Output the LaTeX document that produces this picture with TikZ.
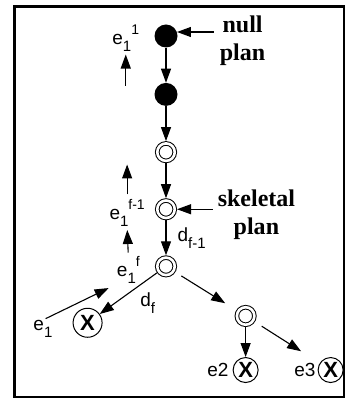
\documentclass[tikz,border=0pt]{standalone}
\usepackage{fontspec}
\setmainfont{Liberation Sans}
\newfontfamily\planfont{Liberation Serif}
\usepackage{tikz}
\usetikzlibrary{arrows.meta,positioning}

\newcommand\lowidx[1]{\raisebox{-7pt}{\fontsize{15}{15}\selectfont #1}}
\newcommand\highidx[1]{\raisebox{10pt}{\fontsize{14}{14}\selectfont #1}}

\begin{document}
\begin{tikzpicture}[
    x=1pt, y=-1pt,
    node distance=35pt,
    blackdot/.style={circle, fill=black, minimum size=23pt, inner sep=0pt},
    ringdot/.style={circle, draw, line width=1pt, double, double distance=2.6pt, minimum size=17.5pt, inner sep=0pt, outer sep=2.3pt},
    failnode/.style={circle, draw, line width=1pt, minimum size=25pt, inner sep=0pt, font=\fontsize{22}{22}\selectfont\bfseries},
    lbl/.style={inner sep=0pt, font=\fontsize{19}{22}\selectfont},
    plantxt/.style={inner sep=0pt, align=center, font=\planfont\bfseries\fontsize{24}{28}\selectfont},
    arr/.style={-{Triangle[length=14pt,width=10pt]}, line width=1.1pt},
]
    \useasboundingbox (0,0) rectangle (347,403);
    \draw[line width=2.5pt] (14.5,6.3) rectangle (344,397);

    % plan chain
    \node[blackdot] (n1) at (166,36) {};
    \node[blackdot, below=of n1] (n2) {};
    \node[ringdot, below=of n2] (n3) {};
    \node[ringdot, below=of n3] (n4) {};
    \node[ringdot, below=of n4] (n5) {};
    \node[ringdot, below right=34pt and 64pt of n5] (n6) {};

    % dead ends
    \node[failnode, minimum size=29pt, below left=38pt and 60pt of n5] (x1) {X};
    \node[failnode, below=30pt of n6] (x2) {X};
    \node[failnode, right=59pt of x2] (x3) {X};

    % plan labels
    \node[plantxt, right=42pt of n1, yshift=-4.5pt] (nullplan) {null\\plan};
    \node[plantxt, right=40.5pt of n4, yshift=-5pt] (skel) {skeletal\\plan};

    % event labels
    \node[lbl, left=15pt of n1, yshift=-2pt] (e11) {e\lowidx{1}\highidx{1}};
    \node[lbl, left=10pt of n4, yshift=-4pt] (e1fm) {e\lowidx{1}\highidx{f-1}};
    \node[lbl, left=15pt of n5, yshift=-4pt] (e1f) {e\lowidx{1}\highidx{f}};
    \node[lbl, left=20pt of x1, yshift=-6pt] (e1) {e\lowidx{1}};
    \node[lbl, left=4pt of x2] (e2) {e2};
    \node[lbl, left=2pt of x3] (e3) {e3};

    \coordinate[below=34pt of e11.south] (e11tail);
    \coordinate[above=35pt of e1fm.north] (e1fmtip);

    % arrows
    \draw[arr, shorten <=6pt] (nullplan.west |- n1.20) -- (n1.20);
    \draw[arr, shorten <=5pt] (skel.west |- n4.east) -- (n4.east);
    \draw[arr] (n1) -- (n2);
    \draw[arr] (n2) -- (n3);
    \draw[arr] (n3) -- (n4);
    \draw[arr] (n4) -- node[lbl, right=11pt] {d\lowidx{f-1}} (n5);
    \draw[arr] (n5) -- node[lbl, pos=0.3, below right=7pt and 0pt] {d\lowidx{f}} (x1);
    \draw[arr, shorten <=7pt, shorten >=13pt] (n5) -- (n6);
    \draw[arr] (n6) -- (x2);
    \draw[arr, shorten <=8pt, shorten >=22pt] (n6) -- (x3);

    \draw[arr, shorten >=3pt] (e11tail) -- (e11.south);
    \draw[arr, shorten <=5pt] (e1fm.north) -- (e1fmtip);
    \draw[arr, shorten <=4pt, shorten >=3pt] (e1f.north) -- (e1fm.south);
    \draw[arr, shorten <=3pt, shorten >=9pt] (e1.north) -- (e1f.south west);

\end{tikzpicture}
\end{document}
